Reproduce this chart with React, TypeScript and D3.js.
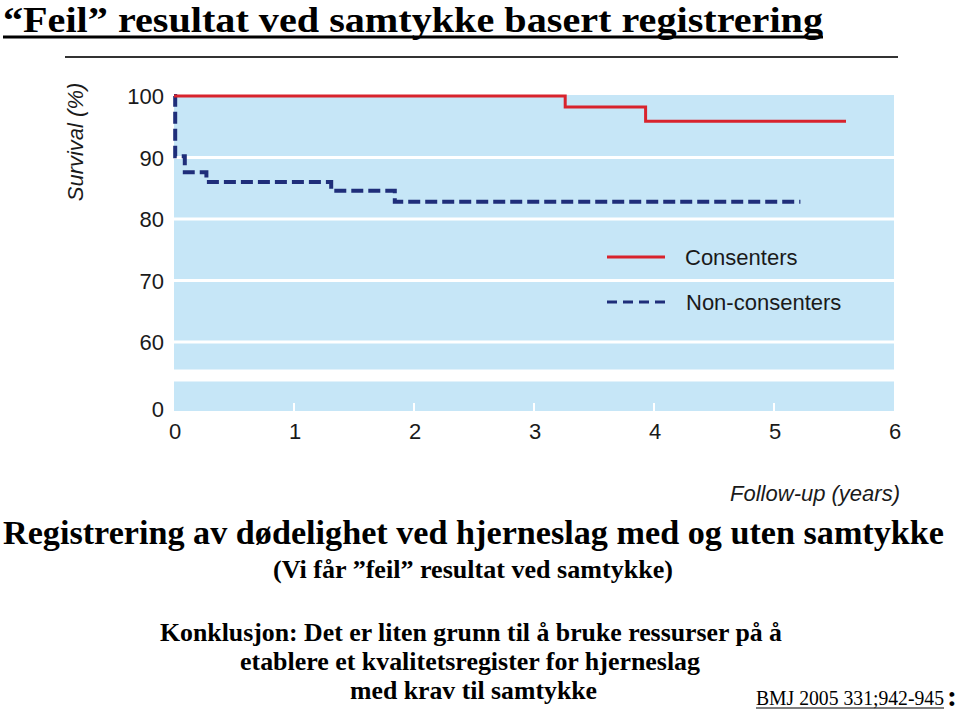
import React from "react";
import * as d3 from "d3";

const consentTimes = [0, 3.26, 3.93, 5.6];
const consentSurv = [100, 98.2, 95.9, 95.9];
const nonTimes = [0, 0.01, 0.09, 0.27, 1.31, 1.84, 5.22];
const nonSurv = [100, 90.2, 87.6, 86.0, 84.6, 82.8, 82.8];
const xTicks = [0, 1, 2, 3, 4, 5, 6];
const yTicksUpper = [100, 90, 80, 70, 60];
const yTicksLower = [0];
const legendLabels = ["Consenters", "Non-consenters"];

const W = 959;
const H = 712;

export default function App() {
  const x = d3.scaleLinear().domain([0, 6]).range([174, 894]);
  const yU = d3.scaleLinear().domain([100, 60]).range([96, 342]);
  const yL = d3.scaleLinear().domain([0, 5]).range([411, 381.5]);

  const line = d3
    .line<[number, number]>()
    .x((d) => x(d[0]))
    .y((d) => yU(d[1]))
    .curve(d3.curveStepAfter);

  const consentPts: [number, number][] = consentTimes.map((t, i) => [t, consentSurv[i]]);
  const nonPts: [number, number][] = nonTimes.map((t, i) => [t, nonSurv[i]]);

  const panel = "#c6e6f7";
  const red = "#d8232d";
  const blue = "#1f2e7a";
  const sans = "'Liberation Sans', Arial, sans-serif";
  const serif = "'Liberation Serif', 'Times New Roman', serif";

  const upperTop = 95;
  const upperBottom = 369.5;

  return (
    <svg width={W} height={H} style={{ position: "absolute", left: 0, top: 0, background: "#fff" }}>
      {/* Title */}
      <text x={3} y={32} fontFamily={serif} fontWeight="bold" fontSize={36} textLength={820} lengthAdjust="spacingAndGlyphs" fill="#000">
        “Feil” resultat ved samtykke basert registrering
      </text>
      <line x1={3} x2={823} y1={37} y2={37} stroke="#000" strokeWidth={3} />
      <line x1={65} x2={898} y1={57} y2={57} stroke="#333" strokeWidth={2} />

      {/* Panels */}
      <rect x={x(0)} y={upperTop} width={x(6) - x(0)} height={upperBottom - upperTop} fill={panel} />
      <rect x={x(0)} y={yL(5)} width={x(6) - x(0)} height={yL(0) - yL(5)} fill={panel} />

      {/* Gridlines */}
      {yTicksUpper.filter((v) => v < 100).map((v) => (
        <line key={v} x1={x(0)} x2={x(6)} y1={yU(v)} y2={yU(v)} stroke="#fff" strokeWidth={3} />
      ))}

      {/* X tick marks */}
      {xTicks.filter((t) => t > 0 && t < 6).map((t) => (
        <line key={t} x1={x(t)} x2={x(t)} y1={yL(0)} y2={yL(0) - 8} stroke="#fff" strokeWidth={2} />
      ))}

      {/* Y tick labels */}
      {yTicksUpper.map((v) => (
        <text key={v} x={164} y={yU(v) + 8} textAnchor="end" fontFamily={sans} fontSize={22} fill="#1a1a1a">
          {v}
        </text>
      ))}
      {yTicksLower.map((v) => (
        <text key={v} x={164} y={yL(v) + 6} textAnchor="end" fontFamily={sans} fontSize={22} fill="#1a1a1a">
          {v}
        </text>
      ))}

      {/* X tick labels */}
      {xTicks.map((t) => (
        <text key={t} x={x(t) + 1} y={439} textAnchor="middle" fontFamily={sans} fontSize={22} fill="#1a1a1a">
          {t}
        </text>
      ))}

      {/* Axis titles */}
      <text
        transform={`translate(83,142) rotate(-90)`}
        textAnchor="middle"
        fontFamily={sans}
        fontStyle="italic"
        fontSize={22}
        fill="#1a1a1a"
      >
        Survival (%)
      </text>
      <text x={900} y={501} textAnchor="end" fontFamily={sans} fontStyle="italic" fontSize={22} fill="#1a1a1a">
        Follow-up (years)
      </text>

      {/* Curves */}
      <path d={line(nonPts) || ""} fill="none" stroke={blue} strokeWidth={4} strokeDasharray="12,5" />
      <path d={line(consentPts) || ""} fill="none" stroke={red} strokeWidth={3} />

      {/* Legend */}
      <line x1={607} x2={665} y1={257} y2={257} stroke={red} strokeWidth={3} />
      <text x={685} y={265} fontFamily={sans} fontSize={22} fill="#1a1a1a">
        {legendLabels[0]}
      </text>
      <line x1={607} x2={667} y1={302} y2={302} stroke={blue} strokeWidth={3} strokeDasharray="10,6" />
      <text x={686} y={310} fontFamily={sans} fontSize={22} fill="#1a1a1a">
        {legendLabels[1]}
      </text>

      {/* Bottom texts */}
      <text x={3} y={544} fontFamily={serif} fontWeight="bold" fontSize={34} textLength={941} lengthAdjust="spacingAndGlyphs" fill="#000">
        Registrering av dødelighet ved hjerneslag med og uten samtykke
      </text>
      <text x={273} y={578} fontFamily={serif} fontWeight="bold" fontSize={25} textLength={400} lengthAdjust="spacingAndGlyphs" fill="#000">
        (Vi får ”feil” resultat ved samtykke)
      </text>
      <text x={160} y={641} fontFamily={serif} fontWeight="bold" fontSize={26} textLength={622} lengthAdjust="spacingAndGlyphs" fill="#000">
        Konklusjon: Det er liten grunn til å bruke ressurser på å
      </text>
      <text x={240} y={670} fontFamily={serif} fontWeight="bold" fontSize={26} textLength={460} lengthAdjust="spacingAndGlyphs" fill="#000">
        etablere et kvalitetsregister for hjerneslag
      </text>
      <text x={350} y={699} fontFamily={serif} fontWeight="bold" fontSize={26} textLength={247} lengthAdjust="spacingAndGlyphs" fill="#000">
        med krav til samtykke
      </text>
      <text x={756} y={705} fontFamily={serif} fontSize={20} textLength={188} lengthAdjust="spacingAndGlyphs" fill="#000">
        BMJ 2005 331;942-945
      </text>
      <line x1={756} x2={944} y1={708} y2={708} stroke="#000" strokeWidth={1.2} />
      <text x={947} y={706} fontFamily={serif} fontWeight="bold" fontSize={30} fill="#000">
        :
      </text>
    </svg>
  );
}
